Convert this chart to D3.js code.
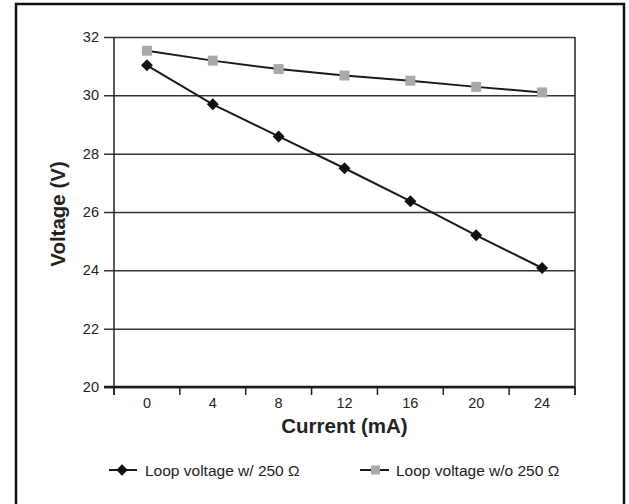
<!DOCTYPE html>
<html>
<head>
<meta charset="utf-8">
<script src="https://cdn.jsdelivr.net/npm/d3@7"></script>
<style>
  body { margin: 0; background: #fff; }
  text { font-family: "Liberation Sans", Arial, sans-serif; fill: #222; }
</style>
</head>
<body>
<div id="chart"></div>
<script>
// current steps (mA) on the x axis
const currents = ['0', '4', '8', '12', '16', '20', '24'];
// loop voltage with the 250 ohm resistor
const withRes = [31.03, 29.69, 28.59, 27.5, 26.37, 25.2, 24.08];
// loop voltage without the resistor
const withoutRes = [31.53, 31.19, 30.9, 30.68, 30.5, 30.29, 30.1];
const yTicks = [20, 22, 24, 26, 28, 30, 32];
const seriesNames = ['Loop voltage w/ 250 \u03A9', 'Loop voltage w/o 250 \u03A9'];

const width = 629, height = 504;
const margin = {top: 37, right: 54, bottom: 117, left: 114};

const svg = d3.select('#chart').append('svg')
    .attr('width', width).attr('height', height);

// outer frame (bottom edge runs off the page)
svg.append('rect')
    .attr('x', 16).attr('y', 4)
    .attr('width', 608).attr('height', 520)
    .attr('fill', 'none').attr('stroke', '#111').attr('stroke-width', 2.5);

const x = d3.scaleBand()
    .domain(currents)
    .range([margin.left, width - margin.right]);

const y = d3.scaleLinear()
    .domain([20, 32])
    .range([height - margin.bottom, margin.top]);

// gridlines + y axis
const yAxis = svg.append('g')
    .attr('transform', `translate(${margin.left},0)`)
    .call(d3.axisLeft(y).tickValues(yTicks).tickSize(10).tickPadding(5)
        .tickFormat(d3.format('d')));
yAxis.select('.domain').remove();
yAxis.selectAll('.tick line').attr('stroke', '#333').attr('stroke-width', 1.5)
    .attr('x2', width - margin.right - margin.left).attr('x1', -10);
yAxis.selectAll('.tick text').style('font-size', '14.5px').attr('fill', '#222');

// x axis with ticks at the band edges
const bottom = y(20);
svg.append('line')
    .attr('x1', margin.left - 10).attr('x2', width - margin.right)
    .attr('y1', bottom).attr('y2', bottom)
    .attr('stroke', '#1a1a1a').attr('stroke-width', 2.5);

const edges = currents.map(c => x(c)).concat([x.range()[1]]);
svg.selectAll('.xtick').data(edges).enter().append('line')
    .attr('class', 'xtick')
    .attr('x1', d => d).attr('x2', d => d)
    .attr('y1', bottom).attr('y2', bottom + 8)
    .attr('stroke', '#222').attr('stroke-width', 1.5);

svg.selectAll('.xlabel').data(currents).enter().append('text')
    .attr('class', 'xlabel')
    .attr('x', d => x(d) + x.bandwidth() / 2)
    .attr('y', bottom + 21)
    .attr('text-anchor', 'middle')
    .style('font-size', '14.5px')
    .text(d => d);

// left and right border of the plot
[margin.left, width - margin.right].forEach(px => {
    svg.append('line')
        .attr('x1', px).attr('x2', px)
        .attr('y1', margin.top).attr('y2', bottom + 8)
        .attr('stroke', '#222').attr('stroke-width', 1.5);
});

// axis titles
svg.append('text')
    .attr('x', x('12') + x.bandwidth() / 2).attr('y', 433)
    .attr('text-anchor', 'middle')
    .style('font-size', '20.5px').style('font-weight', 'bold')
    .text('Current (mA)');

svg.append('text')
    .attr('transform', 'translate(65,214) rotate(-90)')
    .attr('text-anchor', 'middle')
    .style('font-size', '20.5px').style('font-weight', 'bold')
    .text('Voltage (V)');

const line = d3.line()
    .x((d, i) => x(currents[i]) + x.bandwidth() / 2)
    .y(d => y(d));

// series without resistor (grey squares)
svg.append('path')
    .datum(withoutRes)
    .attr('fill', 'none').attr('stroke', '#1a1a1a').attr('stroke-width', 2)
    .attr('d', line);
svg.selectAll('.sq').data(withoutRes).enter().append('rect')
    .attr('class', 'sq')
    .attr('x', (d, i) => x(currents[i]) + x.bandwidth() / 2 - 5)
    .attr('y', d => y(d) - 5)
    .attr('width', 10).attr('height', 10)
    .attr('fill', '#a9a9a9');

// series with resistor (black diamonds)
svg.append('path')
    .datum(withRes)
    .attr('fill', 'none').attr('stroke', '#1a1a1a').attr('stroke-width', 2)
    .attr('d', line);
svg.selectAll('.dm').data(withRes).enter().append('path')
    .attr('class', 'dm')
    .attr('transform', (d, i) => `translate(${x(currents[i]) + x.bandwidth() / 2},${y(d)}) rotate(45)`)
    .attr('d', d3.symbol().type(d3.symbolSquare).size(72))
    .attr('fill', '#111');

// legend
const ly = 470;
const leg1 = svg.append('g');
leg1.append('line').attr('x1', 109).attr('x2', 137).attr('y1', ly).attr('y2', ly)
    .attr('stroke', '#1a1a1a').attr('stroke-width', 2);
leg1.append('path')
    .attr('transform', `translate(122,${ly}) rotate(45)`)
    .attr('d', d3.symbol().type(d3.symbolSquare).size(64))
    .attr('fill', '#111');
leg1.append('text').attr('x', 145).attr('y', ly + 6)
    .style('font-size', '15.5px').text(seriesNames[0]);

const leg2 = svg.append('g');
leg2.append('line').attr('x1', 360).attr('x2', 389).attr('y1', ly).attr('y2', ly)
    .attr('stroke', '#1a1a1a').attr('stroke-width', 2);
leg2.append('rect').attr('x', 371).attr('y', ly - 4.5)
    .attr('width', 9).attr('height', 9).attr('fill', '#a9a9a9');
leg2.append('text').attr('x', 396).attr('y', ly + 6)
    .style('font-size', '15.5px').text(seriesNames[1]);
</script>
</body>
</html>
